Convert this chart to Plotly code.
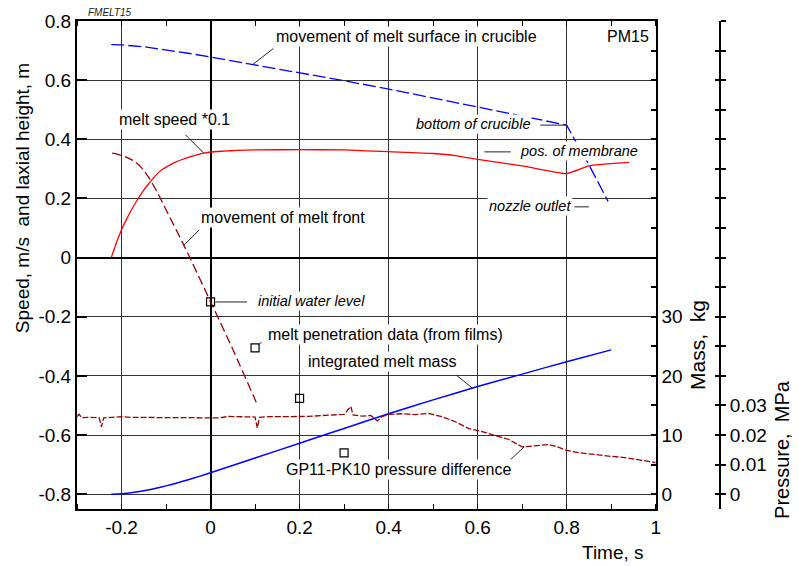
import numpy as np
import plotly.graph_objects as go

# ---- data -------------------------------------------------------------
# movement of melt surface in crucible (m)
surf_t = [-0.223, -0.2, -0.15, -0.1, -0.05, 0.0, 0.1, 0.2, 0.3, 0.4, 0.5, 0.6, 0.7, 0.8, 0.81, 0.85, 0.893]
surf_h = [0.72, 0.719, 0.713, 0.703, 0.691, 0.678, 0.652, 0.625, 0.598, 0.570, 0.540, 0.510, 0.480,
          0.448, 0.42, 0.314, 0.19]

# melt speed * 0.1 (m/s)
speed_t = [-0.223, -0.21, -0.2, -0.19, -0.18, -0.165, -0.15, -0.14, -0.13, -0.12, -0.11, -0.1,
           -0.09, -0.08, -0.067, -0.05, -0.03, -0.015, 0.0, 0.03, 0.06, 0.1, 0.2, 0.3, 0.4,
           0.5, 0.55, 0.6, 0.7, 0.75, 0.8, 0.85, 0.9, 0.94]
speed_v = [0.0, 0.056, 0.094, 0.126, 0.155, 0.194, 0.228, 0.248, 0.266, 0.283, 0.296, 0.306,
           0.3145, 0.322, 0.33, 0.339, 0.3475, 0.353, 0.357, 0.36, 0.3625, 0.364, 0.365, 0.364,
           0.358, 0.352, 0.345, 0.332, 0.31, 0.296, 0.284, 0.31, 0.318, 0.322]

# movement of melt front (m)
front_t = [-0.221, -0.21, -0.2, -0.19, -0.18, -0.17, -0.16, -0.15, -0.14, -0.13, -0.12, -0.1,
           -0.062, -0.045, 0.0, 0.05, 0.097, 0.105]
front_h = [0.353, 0.35, 0.345, 0.34, 0.333, 0.324, 0.312, 0.295, 0.274, 0.249, 0.222, 0.162,
           0.048, -0.005, -0.149, -0.31, -0.47, -0.497]

# melt penetration data from films (m)
film_t = [0.0, 0.1, 0.2, 0.3]
film_h = [-0.15, -0.305, -0.476, -0.66]

# integrated melt mass (kg)
mass_t = [-0.223, -0.2, -0.175, -0.15, -0.125, -0.1, -0.075, -0.05, -0.025, 0.0, 0.1, 0.2,
          0.3, 0.4, 0.5, 0.6, 0.7, 0.8, 0.9]
mass_kg = [0.0, 0.08, 0.28, 0.58, 0.96, 1.41, 1.91, 2.45, 3.02, 3.62, 6.12, 8.62, 11.12, 13.6,
           15.95, 18.2, 20.3, 22.4, 24.4]

# GP11-PK10 pressure difference (MPa)
pres_t = [-0.3, -0.295, -0.29, -0.27, -0.25, -0.245, -0.24, -0.22, -0.2, -0.18, -0.15, -0.12,
          -0.1, -0.07, -0.04, -0.01, 0.0, 0.02, 0.04, 0.06, 0.08, 0.1, 0.105, 0.11, 0.13, 0.16,
          0.19, 0.22, 0.25, 0.28, 0.3, 0.315, 0.32, 0.34, 0.36, 0.375, 0.385, 0.4, 0.43, 0.46,
          0.49, 0.52, 0.55, 0.58, 0.61, 0.64, 0.67, 0.7, 0.73, 0.76, 0.78, 0.8, 0.83, 0.86, 0.9,
          0.93, 0.96, 1.0]
pres_mpa = [0.0263, 0.0270, 0.0259, 0.0260, 0.0258, 0.0228, 0.0258, 0.0261, 0.0262, 0.0260,
            0.0259, 0.0260, 0.0259, 0.0259, 0.0258, 0.0257, 0.0259, 0.0258, 0.0263, 0.0262,
            0.0260, 0.0261, 0.0224, 0.0260, 0.0262, 0.0262, 0.0263, 0.0263, 0.0266, 0.0267,
            0.0270, 0.0297, 0.0268, 0.0264, 0.0266, 0.0248, 0.0262, 0.0270, 0.0272, 0.0269,
            0.0273, 0.0262, 0.0245, 0.0222, 0.0212, 0.0198, 0.0185, 0.0160, 0.0164, 0.0168,
            0.0160, 0.0148, 0.0140, 0.0134, 0.0128, 0.0124, 0.0117, 0.0107]

# axis ticks
x_ticks = [-0.2, 0.0, 0.2, 0.4, 0.6, 0.8, 1.0]
x_labels = ["-0.2", "0", "0.2", "0.4", "0.6", "0.8", "1"]
y_ticks = [0.8, 0.6, 0.4, 0.2, 0.0, -0.2, -0.4, -0.6, -0.8]
y_labels = ["0.8", "0.6", "0.4", "0.2", "0", "-0.2", "-0.4", "-0.6", "-0.8"]
mass_ticks = list(range(0, 81, 5))
mass_labels = ["0", "", "10", "", "20", "", "30"] + [""] * 10
pres_ticks = [round(0.01 * k, 2) for k in range(17)]
pres_labels = ["0", "0.01", "0.02", "0.03"] + [""] * 13

FONT = "Liberation Sans, Arial, sans-serif"
DARKRED = "#9b0000"

fig = go.Figure()
fig.add_trace(go.Scatter(x=surf_t, y=surf_h, mode="lines",
                         line=dict(color="#0000ff", width=1.3, dash="13px,4px")))
fig.add_trace(go.Scatter(x=speed_t, y=speed_v, mode="lines", line_shape="spline",
                         line=dict(color="#ff0000", width=1.3, smoothing=0.5)))
fig.add_trace(go.Scatter(x=front_t, y=front_h, mode="lines", line_shape="spline",
                         line=dict(color=DARKRED, width=1.3, dash="9px,4px", smoothing=0.5)))
fig.add_trace(go.Scatter(x=pres_t, y=pres_mpa, yaxis="y3", mode="lines",
                         line=dict(color=DARKRED, width=1.3, dash="6px,2px")))
fig.add_trace(go.Scatter(x=mass_t, y=mass_kg, yaxis="y2", mode="lines", line_shape="spline",
                         line=dict(color="#0000ff", width=1.5, smoothing=0.5)))
fig.add_trace(go.Scatter(x=film_t, y=film_h, mode="markers",
                         marker=dict(symbol="square-open", size=8, color="black",
                                     line=dict(width=1.2))))
# companion axis carrying the inward half of the pressure ticks
fig.add_trace(go.Scatter(x=[], y=[], yaxis="y4", mode="lines"))

x_px = 444.7  # pixels per second on the time axis
y_px = 296.0  # pixels per metre on the left axis


def pt(px, py):
    """Position in time / height units from a pixel location in the plot."""
    return (px - 210.0) / x_px, 0.8 - (py - 21.0) / y_px


ann = []


def label(text, px, py, xanchor="left", size=16, italic=False):
    x, y = pt(px, py)
    ann.append(dict(x=x, y=y, xref="x", yref="y", text=f"<i>{text}</i>" if italic else text,
                    showarrow=False, xanchor=xanchor, yanchor="middle", bgcolor="white",
                    borderpad=1, font=dict(family=FONT, size=size, color="black")))


def leader(x, y, ax, ay, yref="y", standoff=0):
    ann.append(dict(x=x, y=y, xref="x", yref=yref, text="", showarrow=True, arrowhead=0,
                    arrowwidth=1, arrowcolor="#222222", ax=ax, ay=ay, standoff=standoff))


def title(text, x, y, size, angle=0):
    ann.append(dict(x=x, y=y, xref="paper", yref="paper", text=text, textangle=angle,
                    showarrow=False, xanchor="center", yanchor="middle",
                    font=dict(family=FONT, size=size, color="black")))


label("movement of melt surface in crucible", 273, 37)
label("PM15", 650, 37, xanchor="right")
label("melt speed *0.1", 174, 120, xanchor="center")
label("bottom of crucible", 531, 124, xanchor="right", size=14.5, italic=True)
label("pos. of membrane", 517, 151, size=14.5, italic=True)
label("nozzle outlet", 486, 206, size=14.5, italic=True)
label("movement of melt front", 282, 218, xanchor="center")
label("initial water level", 255, 301, size=14.5, italic=True)
label("melt penetration data (from films)", 265, 335)
label("integrated melt mass", 305, 362)
label("GP11-PK10 pressure difference", 283, 470)

leader(0.095, float(np.interp(0.095, surf_t, surf_h)), 22, -17)
leader(-0.015, float(np.interp(-0.015, speed_t, speed_v)), -20, -20)
leader(0.8, float(np.interp(0.8, surf_t, surf_h)), -28, 0)
mx, my = pt(510, 152)
leader(mx, my, -28, 0)
nx, ny = pt(588, 207)
leader(nx, ny, -16, 0)
leader(-0.06, float(np.interp(-0.06, front_t, front_h)), 17, -17)
leader(film_t[0], film_h[0], 38, 0, standoff=5)
leader(film_t[1], film_h[1], 8, -7, standoff=4)
leader(0.588, float(np.interp(0.588, mass_t, mass_kg)), -17, -14, yref="y2")
leader(0.705, float(np.interp(0.705, pres_t, pres_mpa)), -15, 14, yref="y3")

# caption and axis titles
ann.append(dict(x=0.014, y=1.018, xref="paper", yref="paper", text="<i>FMELT15</i>",
                showarrow=False, xanchor="left", yanchor="middle",
                font=dict(family=FONT, size=10, color="#222222")))
title("Speed, m/s  and laxial height, m", -0.0855, 0.637, 19, -90)
title("Time, s", 0.8336, -0.09, 19)
title("Mass,  kg", 0.964, 0.336, 21, -90)
title("Pressure,  MPa", 1.0964, 0.123, 20, -90)

tick_font = dict(family=FONT, size=19, color="black")

fig.update_layout(
    width=799, height=566,
    margin=dict(l=77, r=79, t=21, b=57),
    paper_bgcolor="white", plot_bgcolor="white",
    showlegend=False,
    annotations=ann,
    xaxis=dict(domain=[0, 0.9], range=[-0.3, 1.0], tickvals=x_ticks, ticktext=x_labels,
               ticks="", showgrid=True, gridcolor="#333333", gridwidth=1,
               zeroline=True, zerolinecolor="black", zerolinewidth=2,
               showline=True, linecolor="black", linewidth=2, mirror="ticks",
               minor=dict(dtick=0.1, tick0=0, ticks="inside", ticklen=5, tickcolor="black",
                          tickwidth=1, showgrid=False),
               tickfont=tick_font),
    yaxis=dict(range=[-0.85, 0.8], tickvals=y_ticks, ticktext=y_labels,
               ticks="inside", ticklen=10, tickwidth=2, tickcolor="black",
               showgrid=True, gridcolor="#333333", gridwidth=1,
               zeroline=True, zerolinecolor="black", zerolinewidth=2,
               showline=True, linecolor="black", linewidth=2, tickfont=tick_font),
    yaxis2=dict(overlaying="y", anchor="x", side="right", range=[-2.5, 80],
                tickvals=mass_ticks, ticktext=mass_labels, ticks="inside", ticklen=5,
                tickwidth=1.5, tickcolor="black", showgrid=False, zeroline=False,
                showline=True, linecolor="black", linewidth=2, tickfont=tick_font),
    yaxis3=dict(overlaying="y", anchor="free", position=1.0, side="right",
                range=[-0.005, 0.16], tickvals=pres_ticks, ticktext=pres_labels,
                ticks="outside", ticklen=5, tickwidth=1.5, tickcolor="black",
                showgrid=False, zeroline=False, showline=True, linecolor="black",
                linewidth=2, tickfont=tick_font),
    yaxis4=dict(overlaying="y", anchor="free", position=1.0, side="right",
                range=[-0.005, 0.16], tickvals=pres_ticks, ticks="inside", ticklen=5,
                tickwidth=1.5, tickcolor="black", showticklabels=False, showgrid=False,
                zeroline=False, showline=False),
)

fig.write_html("out.html")
